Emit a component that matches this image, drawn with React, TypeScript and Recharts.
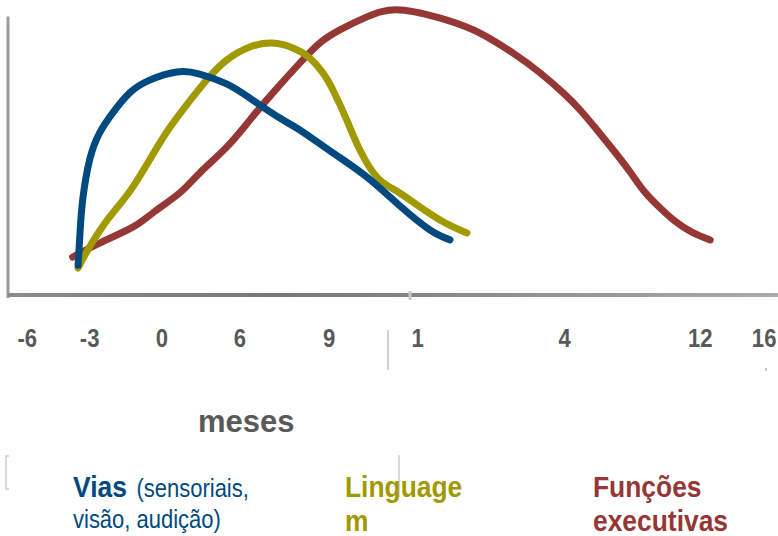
import { LineChart, Line, XAxis, YAxis, ReferenceLine } from 'recharts'

// positions on the time line (0-100) where each month label sits
const tickPositions = [2.5, 10.6, 20.0, 30.1, 41.7, 53.2, 72.3, 89.9, 98.2]
const tickLabels = ['-6', '-3', '0', '6', '9', '1', '4', '12', '16']

// Vias (sensoriais, visão, audição)
const viasX = [9.1, 9.35, 9.7, 10.6, 11.9, 13.6, 15.8, 18.4, 21.9, 24.9, 28.4, 31.4, 35.3, 37.9, 42.2, 46.6, 50.9, 54.8, 57.4]
const viasY = [10.3, 21.4, 32.8, 46.6, 55.9, 62.8, 69.7, 74.1, 76.9, 76.2, 72.8, 67.9, 61.0, 56.9, 49.0, 40.7, 30.7, 22.4, 19.0]

// Linguagem
const linguagemX = [9.1, 10.6, 13.2, 16.2, 19.7, 22.7, 25.8, 28.4, 31.4, 34.3, 37.0, 39.2, 40.9, 42.2, 44.0, 45.7, 47.9, 50.0, 52.2, 56.1, 59.6]
const linguagemY = [9.3, 16.6, 26.9, 37.2, 52.4, 63.8, 74.1, 81.0, 85.5, 86.9, 85.2, 81.7, 76.6, 70.7, 60.3, 50.0, 40.7, 36.6, 32.8, 25.9, 21.4]

// Funções executivas
const funcoesX = [8.4, 11.9, 16.2, 18.8, 22.3, 24.9, 28.4, 31.4, 34.4, 37.9, 40.5, 43.1, 46.6, 50.9, 57.0, 61.3, 65.6, 69.1, 72.1, 74.3, 76.5, 78.6, 80.8, 82.7, 84.7, 86.6, 88.8, 91.2]
const funcoesY = [13.1, 17.9, 23.4, 28.3, 35.2, 42.1, 51.0, 60.3, 69.7, 80.0, 86.9, 91.4, 95.9, 98.3, 94.8, 90.3, 83.4, 76.6, 69.7, 63.8, 56.9, 50.0, 42.4, 35.5, 30.0, 25.5, 21.7, 19.0]

const toPoints = (xs: number[], ys: number[]) => xs.map((x, i) => ({ x, y: ys[i] }))

const vias = toPoints(viasX, viasY)
const linguagem = toPoints(linguagemX, linguagemY)
const funcoes = toPoints(funcoesX, funcoesY)

const BLUE = '#004a7f'
const OLIVE = '#a09a00'
const RED = '#953735'
const GREY = '#595959'
const FONT = '"Liberation Sans", Arial, sans-serif'

function MonthTick(props: any) {
  const { x, y, payload } = props
  const idx = tickPositions.indexOf(payload.value)
  return (
    <g transform={`translate(${x},${y}) scale(0.85,1)`}>
      <text x={0} y={52} textAnchor="middle" fontFamily={FONT} fontWeight="bold" fontSize={26} fill={GREY}>
        {tickLabels[idx] ?? ''}
      </text>
    </g>
  )
}

export default function App() {
  return (
    <div style={{ position: 'absolute', left: 0, top: 0, width: 778, height: 536, background: '#fff' }}>
      <LineChart width={778} height={536} margin={{ top: 5, right: 0, bottom: 0, left: 8 }}>
        <defs>
          <linearGradient id="axisGrad" gradientUnits="userSpaceOnUse" x1={8} y1={0} x2={778} y2={0}>
            <stop offset="0" stopColor="#8c8c8c" />
            <stop offset="0.35" stopColor="#787878" />
            <stop offset="1" stopColor="#ababab" />
          </linearGradient>
        </defs>
        <XAxis
          type="number"
          dataKey="x"
          domain={[0, 100]}
          ticks={tickPositions}
          interval={0}
          height={241}
          tickLine={false}
          tickSize={0}
          tickMargin={0}
          axisLine={{ stroke: 'url(#axisGrad)', strokeWidth: 4 }}
          tick={<MonthTick />}
          allowDuplicatedCategory={false}
        />
        <YAxis type="number" dataKey="y" domain={[0, 100]} hide />
        <ReferenceLine
          segment={[{ x: 0, y: -1 }, { x: 0, y: 96 }]}
          stroke="#9a9a9a"
          strokeWidth={3}
          ifOverflow="visible"
        />
        <Line data={funcoes} dataKey="y" type="natural" stroke={RED} strokeWidth={7} strokeLinecap="round" dot={false} isAnimationActive={false} />
        <Line data={linguagem} dataKey="y" type="natural" stroke={OLIVE} strokeWidth={7} strokeLinecap="round" dot={false} isAnimationActive={false} />
        <Line data={vias} dataKey="y" type="natural" stroke={BLUE} strokeWidth={7} strokeLinecap="round" dot={false} isAnimationActive={false} />
      </LineChart>

      <svg width={778} height={536} style={{ position: 'absolute', left: 0, top: 0, pointerEvents: 'none' }}>
        {/* small marks left over on the slide */}
        <line x1={410} y1={291} x2={410} y2={300} stroke="#c8c8c8" strokeWidth={3} />
        <line x1={388} y1={330} x2={388} y2={370} stroke="#cfcfcf" strokeWidth={2} />
        <line x1={399} y1={455} x2={399} y2={497} stroke="#cfcfcf" strokeWidth={1.5} />
        <path d="M9,456 L6,456 L6,489 L9,489" fill="none" stroke="#cccccc" strokeWidth={1.5} />
        <rect x={765} y={368} width={2} height={3} fill="#cccccc" />

        <text x={198} y={432} fontFamily={FONT} fontWeight="bold" fontSize={31} fill={GREY}>meses</text>

        <g transform="translate(73,497) scale(0.88,1)" fontFamily={FONT} fill={BLUE}>
          <text x={0} y={0}>
            <tspan fontWeight="bold" fontSize={30}>Vias</tspan>
            <tspan fontSize={25} dx={4}> (sensoriais,</tspan>
          </text>
          <text x={0} y={31} fontSize={25}>visão, audição)</text>
        </g>
        <g transform="translate(345,497) scale(0.88,1)" fontFamily={FONT} fontWeight="bold" fontSize={30} fill={OLIVE}>
          <text x={0} y={0}>Linguage</text>
          <text x={0} y={34}>m</text>
        </g>
        <g transform="translate(593,497) scale(0.88,1)" fontFamily={FONT} fontWeight="bold" fontSize={30} fill={RED}>
          <text x={0} y={0}>Funções</text>
          <text x={0} y={34}>executivas</text>
        </g>
      </svg>
    </div>
  )
}
